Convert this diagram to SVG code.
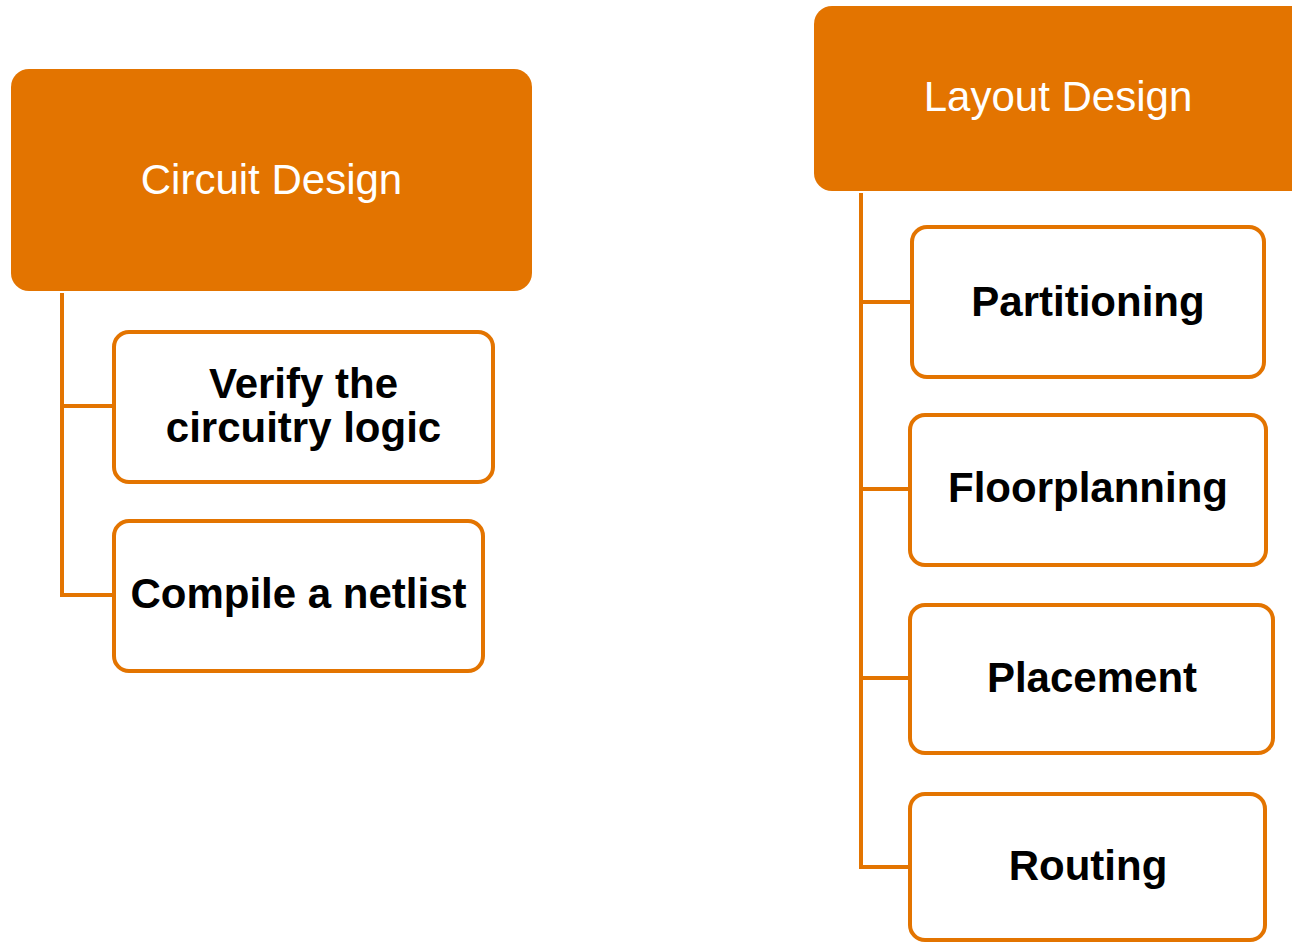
<svg xmlns="http://www.w3.org/2000/svg" width="1292" height="943" viewBox="0 0 1292 943">
<style>
.head{fill:#E37400;}
.headtxt{font-family:"Liberation Sans",Arial,sans-serif;font-size:42px;fill:#ffffff;text-anchor:middle;}
.child{fill:#ffffff;stroke:#E37400;stroke-width:4;}
.childtxt{font-family:"Liberation Sans",Arial,sans-serif;font-size:42px;font-weight:bold;fill:#000000;text-anchor:middle;}
.conn{fill:none;stroke:#E37400;stroke-width:4;stroke-linejoin:miter;}
</style>
<rect width="1292" height="943" fill="#ffffff"/>
<g id="connectors">
<path class="conn" d="M62,293 V595 H114 M62,406 H114"/>
<path class="conn" d="M861,193 V867 H910 M861,302 H912 M861,489 H910 M861,678 H910"/>
</g>
<g id="circuit-design">
<rect class="head" x="11" y="69" width="521" height="222" rx="18"/>
<text class="headtxt" x="271.5" y="194">Circuit Design</text>
</g>
<g id="verify">
<rect class="child" x="114" y="332" width="379" height="150" rx="15"/>
<text class="childtxt" x="303.5" y="398">Verify the</text>
<text class="childtxt" x="303.5" y="442">circuitry logic</text>
</g>
<g id="compile">
<rect class="child" x="114" y="521" width="369" height="150" rx="15"/>
<text class="childtxt" x="298.5" y="608">Compile a netlist</text>
</g>
<g id="layout-design">
<rect class="head" x="814" y="6" width="500" height="185" rx="18"/>
<text class="headtxt" x="1058" y="111">Layout Design</text>
</g>
<g id="partitioning">
<rect class="child" x="912" y="227" width="352" height="150" rx="15"/>
<text class="childtxt" x="1088" y="316">Partitioning</text>
</g>
<g id="floorplanning">
<rect class="child" x="910" y="415" width="356" height="150" rx="15"/>
<text class="childtxt" x="1088" y="502">Floorplanning</text>
</g>
<g id="placement">
<rect class="child" x="910" y="605" width="363" height="148" rx="15"/>
<text class="childtxt" x="1092" y="692">Placement</text>
</g>
<g id="routing">
<rect class="child" x="910" y="794" width="355" height="146" rx="15"/>
<text class="childtxt" x="1088" y="880">Routing</text>
</g>
</svg>
